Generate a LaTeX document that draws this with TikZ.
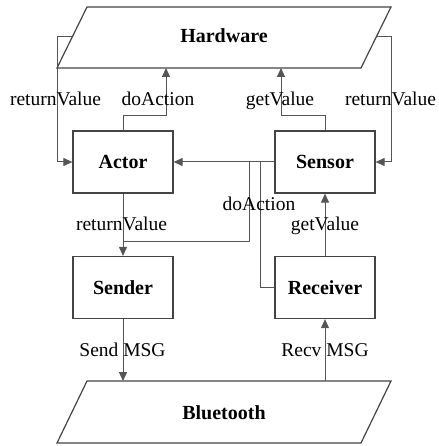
\documentclass[tikz,border=0pt]{standalone}
\usepackage{fontspec}
\setmainfont{Liberation Serif}
\usetikzlibrary{arrows.meta}
\definecolor{ln}{HTML}{555555}
\definecolor{bx}{HTML}{444444}
\begin{document}
\begin{tikzpicture}[x=1pt,y=-1pt,
  box/.style={draw=bx,line width=1.2pt,minimum width=100pt,minimum height=62pt,inner sep=0pt,font=\fontsize{20}{22}\selectfont\bfseries},
  para/.style={draw=bx,line width=1.2pt},
  big/.style={font=\fontsize{20}{22}\selectfont\bfseries,anchor=base,inner sep=0pt},
  lbl/.style={font=\fontsize{19.5}{21}\selectfont,anchor=base,inner sep=0pt},
  con/.style={draw=ln,line width=1pt},
  arr/.style={con,-{Triangle[length=9pt,width=8pt]}}]
\useasboundingbox (0,0) rectangle (438,446);
% parallelograms
\draw[para] (87,7) -- (391,7) -- (361,68) -- (57,68) -- cycle;
\draw[para] (87,381) -- (391,381) -- (361,443) -- (57,443) -- cycle;
\node[big] (hw) at (224,43) {Hardware};
\node[big] (bt) at (224,419) {Bluetooth};
% boxes
\node[box] (actor) at (123,162) {Actor};
\node[box] (sensor) at (325,162) {Sensor};
\node[box] (sender) at (123,287.5) {Sender};
\node[box] (receiver) at (325,287.5) {Receiver};
% connection points
\coordinate (hwL) at (72,37);
\coordinate (hwR) at (377,37);
\coordinate (hwA) at (166,68);
\coordinate (hwG) at (281,68);
\coordinate (btS) at (123,381);
\coordinate (btR) at (325,381);
\coordinate (j1) at (249,162);
\coordinate (j2) at (260,162);
\coordinate (j3) at (123,241);
% connectors
\draw[arr] (hwL) -- (57,37) |- (actor.west);
\draw[arr] (actor.north) -- ++(0,-15) -| (hwA);
\draw[arr] (sensor.north) -- ++(0,-15) -| (hwG);
\draw[arr] (hwR) -- (391,37) |- (sensor.east);
\draw[arr] (sensor.west) -- (actor.east);
\draw[con] (j1) |- (j3);
\draw[arr] (actor.south) -- (sender.north);
\draw[con] (receiver.west) -| (j2);
\draw[arr] (receiver.north) -- (sensor.south);
\draw[arr] (sender.south) -- (btS);
\draw[arr] (btR) -- (receiver.south);
% labels
\node[lbl] (l1) at (55.5,106) {returnValue};
\node[lbl] (l2) at (158,106) {doAction};
\node[lbl] (l3) at (280,106) {getValue};
\node[lbl] (l4) at (390.5,106) {returnValue};
\node[lbl] (l5) at (121.5,230) {returnValue};
\node[lbl] (l6) at (259,210) {doAction};
\node[lbl] (l7) at (325,230) {getValue};
\node[lbl] (l8) at (122.5,356) {Send MSG};
\node[lbl] (l9) at (325,356) {Recv MSG};
\end{tikzpicture}
\end{document}
